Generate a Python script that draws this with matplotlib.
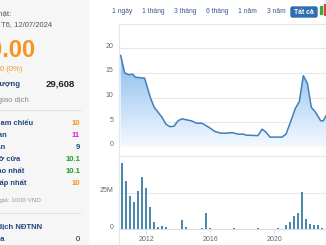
import matplotlib
matplotlib.use("Agg")
import matplotlib.pyplot as plt
import matplotlib.transforms as mtransforms
from matplotlib.patches import Rectangle, FancyBboxPatch, Polygon
import numpy as np

plt.rcParams['font.family'] = ['Liberation Sans', 'DejaVu Sans']

# ---- data ----
price_dates = ["2010-06", "2010-09", "2010-12", "2011-03", "2011-05", "2011-12",
               "2012-04", "2012-07", "2012-11", "2013-01", "2013-04", "2013-07",
               "2013-10", "2014-01", "2014-04", "2014-08", "2014-11", "2015-03",
               "2015-07", "2015-12", "2016-05", "2016-09", "2017-01", "2017-06",
               "2017-10", "2018-02", "2018-04", "2019-01", "2019-04", "2019-07",
               "2019-10", "2020-07", "2020-10", "2021-02", "2021-05", "2021-08",
               "2021-11", "2022-02", "2022-05", "2022-08", "2022-12", "2023-02",
               "2023-04", "2023-07", "2023-10", "2024-01", "2024-04", "2024-07"]
price_values = [18.5, 15.0, 14.6, 14.7, 14.1, 13.9,
                10.2, 8.1, 6.7, 6.0, 4.6, 4.1,
                4.2, 5.3, 5.7, 5.45, 5.3, 4.8,
                4.8, 4.0, 3.1, 2.8, 2.8, 2.9,
                2.6, 2.6, 2.4, 2.3, 3.6, 3.0,
                2.0, 2.0, 2.6, 5.5, 7.8, 9.2,
                14.4, 12.9, 8.0, 7.1, 5.3, 5.3,
                6.3, 7.5, 8.0, 9.0, 10.2, 10.0]

vol_dates = ["2010-07", "2010-10", "2011-01", "2011-04", "2011-07", "2011-10",
             "2012-01", "2012-04", "2012-07", "2012-10", "2013-01", "2013-04",
             "2014-04", "2014-07", "2015-01", "2015-07", "2015-10", "2016-01",
             "2017-04", "2017-07", "2019-01", "2020-04", "2020-10", "2021-01",
             "2021-04", "2021-07", "2021-10", "2022-01", "2022-04", "2022-07",
             "2022-10", "2023-01"]
vol_values = [45.0, 32.9, 22.7, 18.8, 26.3, 35.4,
              27.9, 15.4, 5.2, 1.4, 2.2, 1.4,
              6.1, 1.8, 0.4, 0.9, 10.9, 0.9,
              0.4, 0.9, 0.6, 0.6, 2.7, 5.2,
              9.3, 11.3, 25.4, 6.8, 3.8, 2.7,
              2.7, 0.9]  # millions

year_ticks = [2012, 2016, 2020]
price_ticks = [0, 5, 10, 15, 20]
vol_ticks = [0, 25]
vol_tick_labels = ["0", "25M"]

ranges = ["1 ngày", "1 tháng", "3 tháng", "6 tháng", "1 năm", "3 năm"]

info_labels = ["Giá tham chiếu", "Giá trần", "Giá sàn", "Giá mở cửa",
               "Giá cao nhất", "Giá thấp nhất"]
info_values = ["10", "11", "9", "10.1", "10.1", "10"]
info_colors = ["#f7941d", "#e21be0", "#1f4e8c", "#1e9e2e", "#1e9e2e", "#f7941d"]


def to_year(s):
    y, m = s.split("-")
    return int(y) + (int(m) - 1) / 12.0


W, H = 326, 245
fig = plt.figure(figsize=(W / 100, H / 100), dpi=100)

bg = fig.add_axes([0, 0, 1, 1])
bg.set_xlim(0, W)
bg.set_ylim(H, 0)
bg.axis("off")


def px_axes(left, top, right, bottom):
    return fig.add_axes([left / W, 1 - bottom / H, (right - left) / W, (bottom - top) / H])


# ---- left info panel ----
bg.add_patch(Rectangle((0, 0), 88, H, color="#f6f6f6", zorder=0))
dark = "#23467e"
bg.text(11, 15, "Cập nhật:", ha="right", va="center", fontsize=5.5, color="#555555")
bg.text(1, 24.5, "T6, 12/07/2024", ha="left", va="center", fontsize=5.5, color="#555555")
bg.text(36, 50, "10.00", ha="right", va="center", fontsize=17, color="#f7941d", fontweight="bold")
bg.text(22, 69, "0 (0%)", ha="right", va="center", fontsize=5.5, color="#f7941d")
bg.text(19.5, 84, "Khối lượng", ha="right", va="center", fontsize=5.6, color=dark,
        fontweight="bold")
bg.text(75, 84, "29,608", ha="right", va="center", fontsize=6.8, color="#222222", fontweight="bold")
bg.text(29, 100, "Giá trị giao dịch", ha="right", va="center", fontsize=5.5, color="#888888")
bg.plot([0, 80], [110, 110], color="#e2e2e2", lw=0.8)

label_ends = [32.7, 6.7, 5.7, 20.7, 24, 26.7]
for i, (lab, val, col) in enumerate(zip(info_labels, info_values, info_colors)):
    yy = 123 + i * 12
    bg.text(label_ends[i], yy, lab, ha="right", va="center", fontsize=5.4, color=dark,
            fontweight="bold")
    bg.text(80, yy, val, ha="right", va="center", fontsize=5.6, color=col, fontweight="bold")

bg.text(40.7, 200, "Đơn vị giá: 1000 VND", ha="right", va="center", fontsize=4.6, color="#999999")
bg.plot([0, 80], [213, 213], color="#e2e2e2", lw=0.8)
bg.text(41.7, 227, "Giao dịch NĐTNN", ha="right", va="center", fontsize=5.6, color=dark, fontweight="bold")
bg.text(5.3, 239, "Mua", ha="right", va="center", fontsize=5.6, color=dark, fontweight="bold")
bg.text(80, 239, "0", ha="right", va="center", fontsize=5.6, color="#222222")

# ---- range buttons ----
btn_x = [112, 142, 174, 206, 238, 267]
for bx, lab in zip(btn_x, ranges):
    bg.text(bx, 11.5, lab, ha="left", va="center", fontsize=4.9, color="#3a5a8c")
bg.add_patch(FancyBboxPatch((291, 7), 26, 10, boxstyle="round,pad=0,rounding_size=1.5",
                            color="#2f6fae", zorder=2))
bg.text(304, 12, "Tất cả", ha="center", va="center", fontsize=4.9, color="white",
        fontweight="bold", zorder=3)
bg.add_patch(Rectangle((320, 6), 1.6, 8, color="#3aa845", zorder=2))
bg.add_patch(Rectangle((323.5, 4), 1.6, 11, color="#e0413a", zorder=2))

# chart container outline
bg.plot([118.5, 118.5, W], [H, 24.5, 24.5], color="#e4e8ee", lw=0.8)

# ---- price area chart ----
x_left = 2012 + (119 - 146) / 16.0
x_right = 2012 + (346 - 146) / 16.0
px = np.array([to_year(d) for d in price_dates])
py = np.array(price_values)

ax = px_axes(119, 40, 346, 147)
ax.set_xlim(x_left, x_right)
ax.set_ylim(0, (147 - 40) / 4.95)
ax.patch.set_alpha(0)
for s in ax.spines.values():
    s.set_visible(False)
ax.set_yticks(price_ticks)
ax.set_yticklabels([str(t) for t in price_ticks])
ax.set_xticks([])
ax.grid(axis="y", color="#e8e8e8", lw=0.8)
ax.tick_params(axis="y", length=0, labelsize=5, labelcolor="#666666", pad=4)
ax.set_axisbelow(True)

grad = np.linspace(1, 0, 256).reshape(-1, 1)
top_c = np.array([0.52, 0.72, 0.93])
bot_c = np.array([0.96, 0.98, 1.0])
img = bot_c + (top_c - bot_c) * grad[..., None] * np.ones((1, 2, 1))
im = ax.imshow(img, extent=[x_left, x_right, 0, 19], aspect="auto", zorder=1)
poly = Polygon(np.column_stack([np.r_[px[0], px, px[-1]], np.r_[0, py, 0]]),
               closed=True, transform=ax.transData, facecolor="none", edgecolor="none")
ax.add_patch(poly)
im.set_clip_path(poly)
ax.plot(px, py, color="#3f80bb", lw=1.1, zorder=3)
ax.set_xlim(x_left, x_right)
ax.set_ylim(0, (147 - 40) / 4.95)

# ---- volume bars ----
vx = np.array([to_year(d) for d in vol_dates])
vy = np.array(vol_values)
axv = px_axes(119, 156, 346, 229.3)
axv.set_xlim(x_left, x_right)
axv.set_ylim(0, 50)
axv.patch.set_alpha(0)
axv.bar(vx, vy, width=0.13, color="#4b88ad", zorder=3)
for k in ["left", "right"]:
    axv.spines[k].set_visible(False)
axv.spines["top"].set_color("#e8e8e8")
axv.spines["top"].set_linewidth(0.8)
axv.spines["bottom"].set_color("#d5dcea")
axv.spines["bottom"].set_linewidth(0.8)
axv.set_yticks(vol_ticks)
axv.set_yticklabels(vol_tick_labels)
axv.grid(axis="y", color="#e8e8e8", lw=0.8)
axv.set_axisbelow(True)
axv.tick_params(axis="y", length=0, labelsize=5, labelcolor="#666666", pad=4)
axv.set_xticks(year_ticks)
axv.set_xticklabels([str(t) for t in year_ticks])
axv.tick_params(axis="x", length=3.5, width=0.6, color="#d5dcea", labelsize=5,
                labelcolor="#666666", pad=1.5)

shift = mtransforms.ScaledTranslation(0, 3 / 100, fig.dpi_scale_trans)
for a in (ax, axv):
    for lab in a.get_yticklabels():
        lab.set_transform(lab.get_transform() + shift)

fig.savefig("out.png", dpi=100)
